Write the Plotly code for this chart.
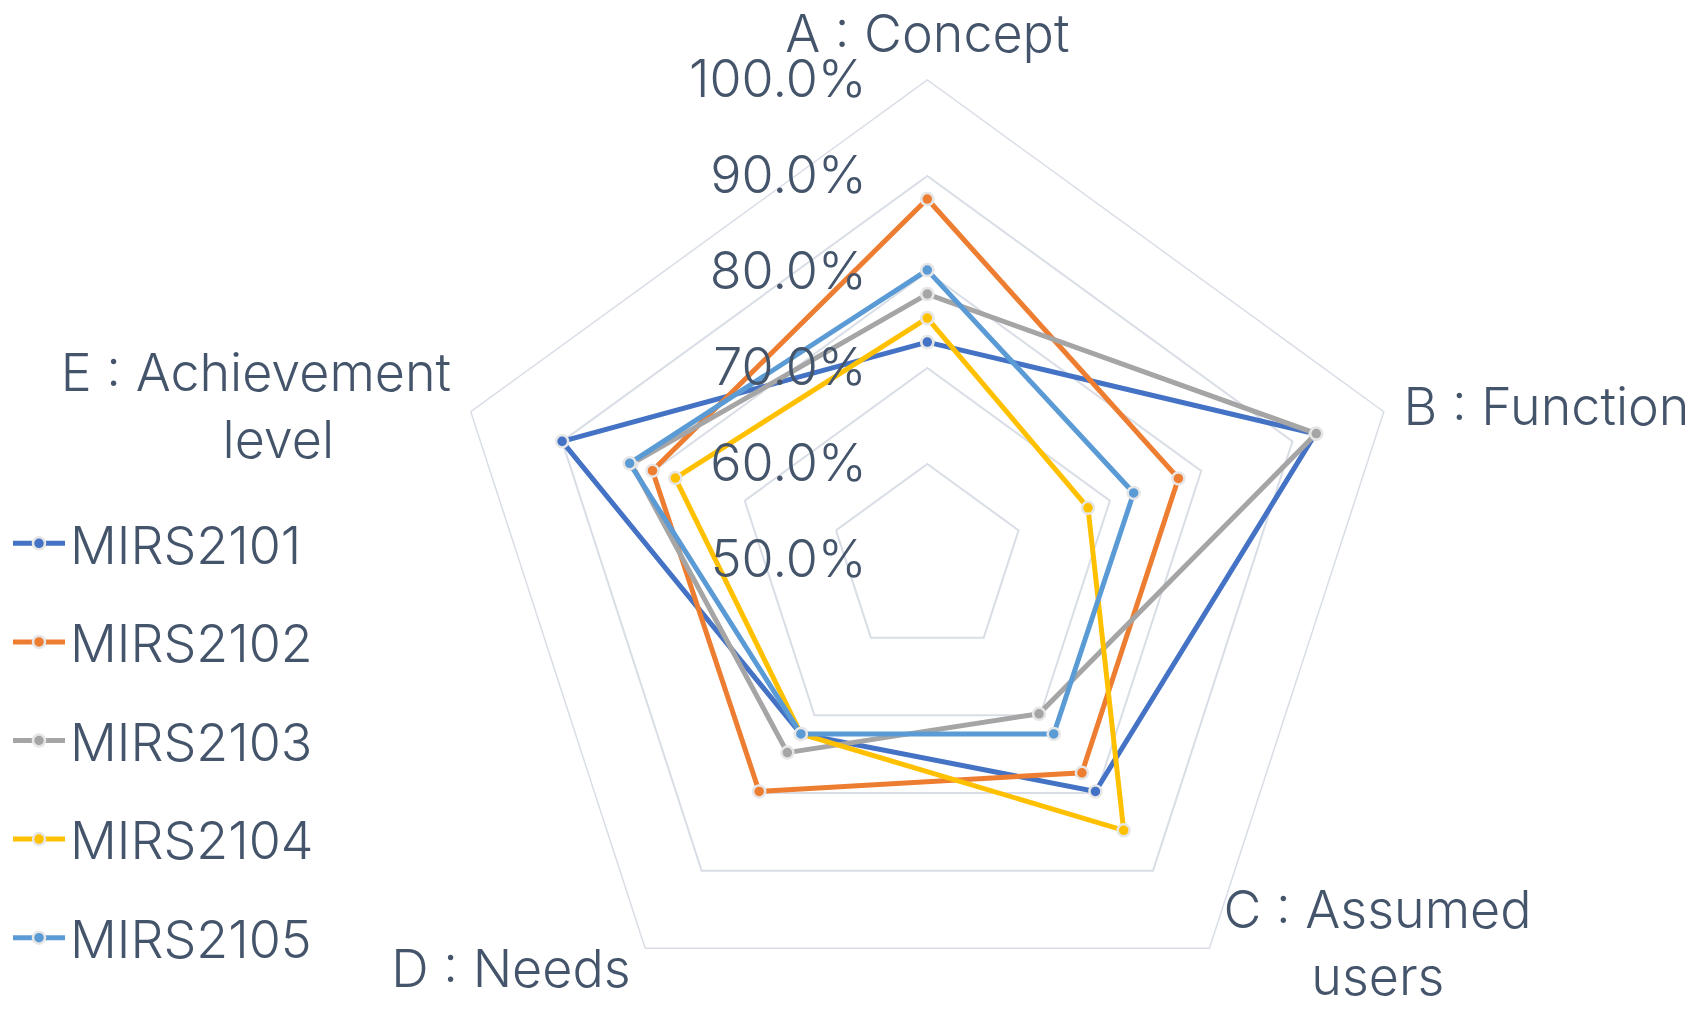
import plotly.graph_objects as go

categories = ["A : Concept", "B : Function", "C : Assumed users", "D : Needs", "E : Achievement level"]
category_labels = ["A : Concept", "B : Function", "C : Assumed<br>users", "D : Needs", "E : Achievement<br>level"]
series_names = ["MIRS2101", "MIRS2102", "MIRS2103", "MIRS2104", "MIRS2105"]
mirs2101 = [72.7, 92.5, 79.8, 72.4, 90.0]
mirs2102 = [87.6, 77.5, 77.4, 79.8, 80.1]
mirs2103 = [77.7, 92.6, 69.8, 74.8, 82.4]
mirs2104 = [75.2, 67.6, 84.8, 72.4, 77.6]
mirs2105 = [80.2, 72.6, 72.4, 72.4, 82.6]
tick_vals = [50, 60, 70, 80, 90, 100]
tick_text = ["50.0%", "60.0%", "70.0%", "80.0%", "90.0%", "100.0%"]

colors = ["#4472C4", "#ED7D31", "#A5A5A5", "#FFC000", "#5B9BD5"]
all_values = [mirs2101, mirs2102, mirs2103, mirs2104, mirs2105]

TEXT = "#44546A"
GRID = "#D9DEE6"
FONT = "Inter"
FS = 52
NB = "\u00a0"
R_MIN, R_MAX = tick_vals[0], tick_vals[-1]

W, H = 1696, 1120

fig = go.Figure()
for name, vals, col in zip(series_names, all_values, colors):
    fig.add_trace(go.Scatterpolar(
        r=vals + vals[:1],
        theta=categories + categories[:1],
        mode="lines+markers",
        name=name,
        legendgroup=name,
        line=dict(color=col, width=5),
        marker=dict(size=12, color=col, line=dict(color="#E6E6E6", width=2.5)),
    ))

# category labels anchored at the outer ring through the polar scales
label_text = [
    category_labels[0],
    category_labels[1],
    category_labels[2].replace("<br>", "<br>" + NB * 6),
    category_labels[3] + NB,
    category_labels[4] + NB * 8,
]
label_gap_sizes = [23, 30, 21, 0, 30]          # controls text gap from anchor
fig.add_trace(go.Scatterpolar(
    r=[R_MAX] * len(categories),
    theta=categories,
    mode="markers+text",
    text=label_text,
    textposition=["top center", "middle right", "middle right", "bottom left", "middle left"],
    textfont=dict(size=FS, color=TEXT, family=FONT, weight=300),
    marker=dict(size=label_gap_sizes, color="rgba(0,0,0,0)", opacity=0),
    cliponaxis=False,
    showlegend=False,
    hoverinfo="skip",
))

cx, cy, rad = 919.3, 552.0, 480.0
fig.update_layout(
    width=W, height=H,
    margin=dict(l=0, r=0, t=0, b=0),
    paper_bgcolor="white",
    plot_bgcolor="white",
    font=dict(family=FONT, color=TEXT, size=FS, weight=300),
    showlegend=True,
    legend=dict(
        x=0.0, xanchor="left",
        y=1 - 495 / H, yanchor="top",
        font=dict(size=FS, color=TEXT, family=FONT, weight=300),
        traceorder="grouped",
        tracegroupgap=28,
        itemwidth=52,
        bgcolor="rgba(0,0,0,0)",
    ),
    polar=dict(
        domain=dict(x=[(cx - rad) / W, (cx + rad) / W],
                    y=[(H - cy - rad) / H, (H - cy + rad) / H]),
        bgcolor="white",
        gridshape="linear",
        radialaxis=dict(
            range=[R_MIN, R_MAX],
            tickvals=tick_vals,
            ticktext=tick_text,
            angle=90,
            tickangle=90,
            side="counterclockwise",
            showline=False,
            showgrid=True,
            gridcolor=GRID,
            gridwidth=1.5,
            ticks="outside",
            ticklen=42,
            tickcolor="rgba(0,0,0,0)",
            tickfont=dict(size=FS, color=TEXT, family=FONT, weight=300),
        ),
        angularaxis=dict(
            direction="clockwise",
            rotation=90,
            showgrid=False,
            showline=True,
            linecolor=GRID,
            linewidth=1.5,
            ticks="",
            showticklabels=False,
        ),
    ),
)

fig.write_html("out.html")
